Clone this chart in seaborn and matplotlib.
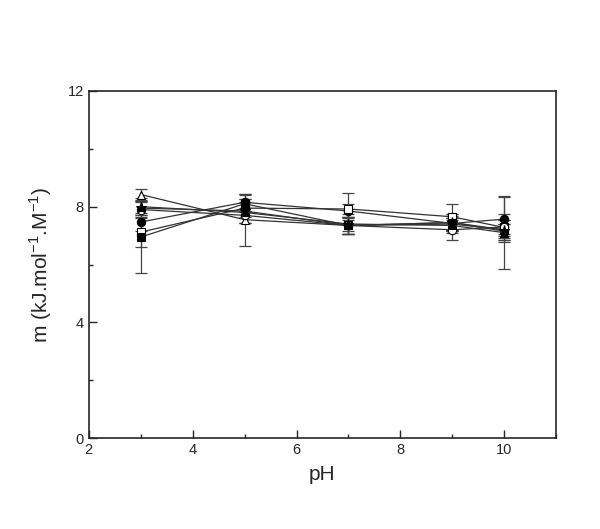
import numpy as np
import pandas as pd
import seaborn as sns
import matplotlib.pyplot as plt
from matplotlib.ticker import MultipleLocator

ph = [3, 5, 7, 9, 10]

# m values for each series
open_tri = [8.42, 7.55, 7.35, 7.40, 7.20]
filled_circ = [7.47, 8.15, 7.85, 7.42, 7.57]
open_sq = [7.12, 7.95, 7.92, 7.65, 7.28]
filled_sq = [6.95, 8.10, 7.35, 7.45, 7.20]
open_circ = [7.90, 7.70, 7.35, 7.20, 7.30]
filled_tri = [8.00, 7.80, 7.40, 7.35, 7.10]
filled_star = [7.95, 7.85, 7.35, 7.45, 7.15]

# error bars
err_open_tri = [0.20, 0.90, 0.20, 0.20, 0.20]
err_filled_circ = [0.30, 0.30, 0.25, 0.25, 0.80]
err_open_sq = [0.50, 0.30, 0.55, 0.45, 0.45]
err_filled_sq = [1.25, 0.30, 0.30, 0.30, 0.35]
err_open_circ = [0.25, 0.25, 0.30, 0.35, 0.25]
err_filled_tri = [0.30, 0.35, 0.35, 0.25, 1.25]
err_filled_star = [0.25, 0.40, 0.30, 0.30, 0.25]

series = [
    ("open_tri", open_tri, err_open_tri, "^", "white"),
    ("filled_circ", filled_circ, err_filled_circ, "o", "black"),
    ("open_sq", open_sq, err_open_sq, "s", "white"),
    ("filled_sq", filled_sq, err_filled_sq, "s", "black"),
    ("open_circ", open_circ, err_open_circ, "o", "white"),
    ("filled_tri", filled_tri, err_filled_tri, "^", "black"),
    ("filled_star", filled_star, err_filled_star, "*", "black"),
]

sns.set_style("ticks")
plt.rcParams['font.family'] = ['Liberation Sans', 'DejaVu Sans']

fig = plt.figure(figsize=(6, 5.29), dpi=100)
ax = fig.add_axes([0.148, 0.172, 0.779, 0.656])

for name, vals, errs, mk, fc in series:
    ax.errorbar(ph, vals, yerr=errs, fmt='none', ecolor='#444444',
                elinewidth=0.9, capsize=4, capthick=0.9, zorder=1)
    df = pd.DataFrame({"pH": ph, "m": vals})
    sns.lineplot(data=df, x="pH", y="m", ax=ax, color='#333333', lw=0.9,
                 marker=mk, markersize=8 if mk == "*" else 6,
                 markerfacecolor=fc, markeredgecolor='black',
                 markeredgewidth=0.8, zorder=2)

ax.set_xlim(2, 11)
ax.set_ylim(0, 12)
ax.xaxis.set_major_locator(MultipleLocator(2))
ax.xaxis.set_minor_locator(MultipleLocator(1))
ax.yaxis.set_major_locator(MultipleLocator(4))
ax.yaxis.set_minor_locator(MultipleLocator(2))
ax.tick_params(which='both', direction='in', labelsize=10.5, width=1)
ax.tick_params(which='major', length=6)
ax.tick_params(which='minor', length=3)
for s in ax.spines.values():
    s.set_linewidth(1.2)
    s.set_visible(True)

ax.set_xlabel("pH", fontsize=15, labelpad=6)
ax.set_ylabel(r"m (kJ.mol$^{\mathregular{-1}}$.M$^{\mathregular{-1}}$)", fontsize=15, labelpad=10)

fig.savefig("out.png", dpi=100)
